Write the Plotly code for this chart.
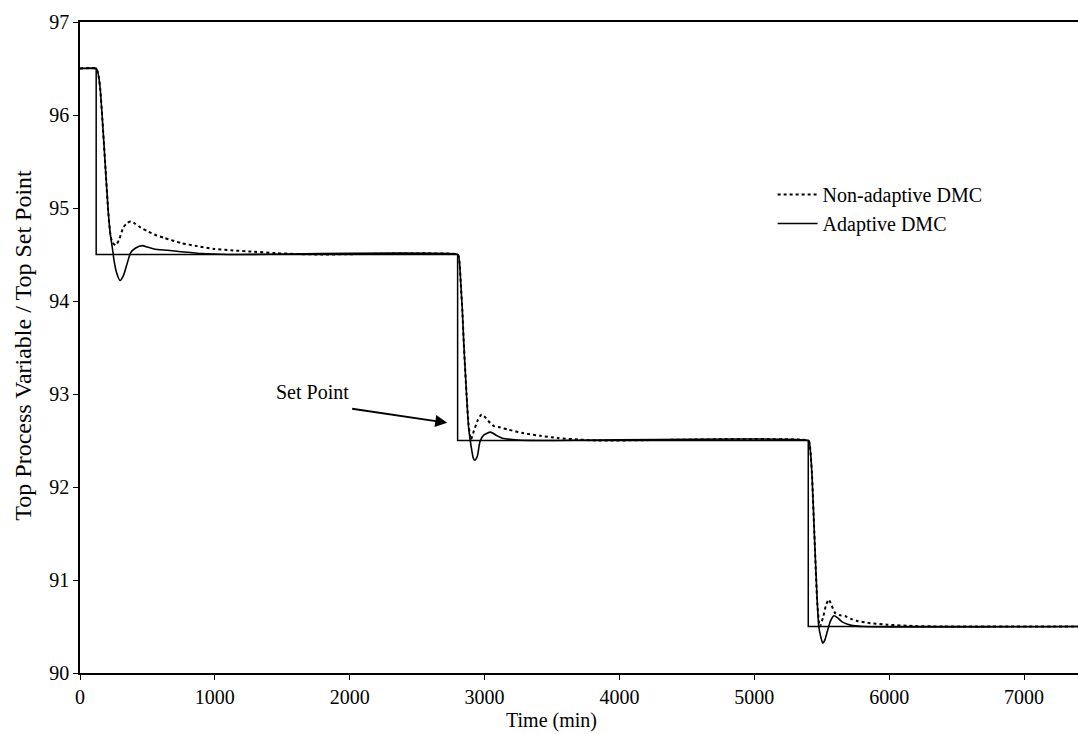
import plotly.graph_objects as go

# Set point schedule (held until the next change)
sp_time = [0, 120, 2800, 5400, 7400]
sp_value = [96.5, 94.5, 92.5, 90.5, 90.5]

# Non-adaptive DMC response
na_time = [0, 120, 130, 140, 150, 166, 190, 210, 225, 240, 265, 290, 321, 350, 376,
           410, 450, 500, 560, 623, 747, 870, 994, 1117, 1290, 1450, 1600, 1800,
           2800, 2808, 2815, 2825, 2835, 2844, 2852, 2866, 2881, 2898, 2920, 2950,
           2978, 3010, 3040, 3069, 3118, 3168, 3291, 3415, 3539, 3700, 3850,
           5400, 5408, 5415, 5427, 5445, 5467, 5486, 5510, 5530, 5552, 5575,
           5602, 5640, 5676, 5720, 5763, 5861, 5985, 6180, 6400, 7400]
na_value = [96.5, 96.5, 96.47, 96.4, 96.28, 95.95, 95.4, 94.95, 94.72, 94.63, 94.6, 94.66,
            94.79, 94.84, 94.856, 94.83, 94.79, 94.75, 94.71, 94.68, 94.624, 94.59,
            94.56, 94.545, 94.53, 94.515, 94.505, 94.5,
            94.5, 94.48, 94.4, 94.15, 93.9, 93.6, 93.37, 93.0, 92.68, 92.51, 92.6,
            92.72, 92.78, 92.74, 92.69, 92.655, 92.64, 92.62, 92.577, 92.55, 92.527,
            92.51, 92.5,
            92.5, 92.48, 92.4, 92.15, 91.5, 90.75, 90.5, 90.6, 90.72, 90.79, 90.72,
            90.64, 90.62, 90.61, 90.58, 90.56, 90.535, 90.52, 90.505, 90.5, 90.5]

# Adaptive DMC response
ad_time = [0, 120, 130, 140, 150, 166, 190, 210, 225, 240, 252, 272, 297, 321, 351, 376,
           413, 462, 500, 549, 648, 750, 900, 1100,
           2800, 2808, 2815, 2825, 2835, 2844, 2852, 2866, 2881, 2901, 2916, 2928,
           2946, 2966, 2995, 3044, 3094, 3131, 3250, 3400,
           5400, 5408, 5415, 5427, 5445, 5467, 5478, 5494, 5508, 5522, 5540, 5565,
           5590, 5620, 5651, 5713, 5800, 7400]
ad_value = [96.5, 96.5, 96.47, 96.4, 96.28, 95.95, 95.4, 94.95, 94.72, 94.57, 94.44, 94.3,
            94.22, 94.27, 94.41, 94.52, 94.57, 94.595, 94.58, 94.56, 94.545, 94.53,
            94.51, 94.5,
            94.5, 94.48, 94.4, 94.15, 93.9, 93.6, 93.37, 93.0, 92.65, 92.43, 92.31,
            92.287, 92.33, 92.49, 92.56, 92.59, 92.55, 92.525, 92.505, 92.5,
            92.5, 92.48, 92.4, 92.15, 91.5, 90.75, 90.5, 90.38, 90.32, 90.35, 90.44,
            90.56, 90.615, 90.59, 90.55, 90.515, 90.5, 90.5]

SERIF = "Liberation Serif, Times New Roman, serif"

fig = go.Figure()

fig.add_trace(go.Scatter(
    x=sp_time, y=sp_value, mode="lines", line=dict(color="black", width=1.5, shape="hv"),
    showlegend=False, hoverinfo="skip"))

fig.add_trace(go.Scatter(
    x=na_time, y=na_value, mode="lines", name="Non-adaptive DMC",
    line=dict(color="black", width=2, dash="dot", shape="spline", smoothing=0.6)))

fig.add_trace(go.Scatter(
    x=ad_time, y=ad_value, mode="lines", name="Adaptive DMC",
    line=dict(color="black", width=1.6, shape="spline", smoothing=0.6)))

fig.update_layout(
    width=1078, height=734,
    margin=dict(l=80, r=0, t=22, b=61),
    paper_bgcolor="white", plot_bgcolor="white",
    font=dict(family=SERIF, size=20, color="black"),
    legend=dict(x=0.694, y=0.765, xanchor="left", yanchor="top", itemwidth=40,
                bgcolor="rgba(0,0,0,0)", font=dict(family=SERIF, size=20, color="black"),
                tracegroupgap=0),
    xaxis=dict(range=[0, 7400], tickvals=[0, 1000, 2000, 3000, 4000, 5000, 6000, 7000],
               showgrid=False, zeroline=False, showline=True, linecolor="black",
               linewidth=2, mirror=True, ticks="outside", ticklen=5, tickcolor="black",
               tickfont=dict(family=SERIF, size=20, color="black")),
    yaxis=dict(range=[90, 97], dtick=1, showgrid=False, zeroline=False, showline=True,
               linecolor="black", linewidth=1.5, ticks="outside", ticklen=5,
               tickcolor="black", tickfont=dict(family=SERIF, size=20, color="black")),
    annotations=[
        dict(text="Time (min)", xref="paper", yref="paper", x=0.472, y=-0.094,
             xanchor="center", yanchor="bottom", showarrow=False,
             font=dict(family=SERIF, size=20, color="black")),
        dict(text="Top Process Variable / Top Set Point", xref="paper", yref="paper",
             x=-0.058, y=0.503, xanchor="center", yanchor="middle", textangle=-90,
             showarrow=False, font=dict(family=SERIF, size=24, color="black")),
        dict(text="Set Point", xref="x", yref="y", x=1721, y=93.02,
             xanchor="center", yanchor="middle", showarrow=False,
             font=dict(family=SERIF, size=20, color="black")),
        dict(text="", xref="x", yref="y", x=2723, y=92.69, axref="x", ayref="y",
             ax=2007, ay=92.845, showarrow=True, arrowhead=2, arrowsize=1.2,
             arrowwidth=2, arrowcolor="black"),
    ],
)

fig.write_html("out.html")
